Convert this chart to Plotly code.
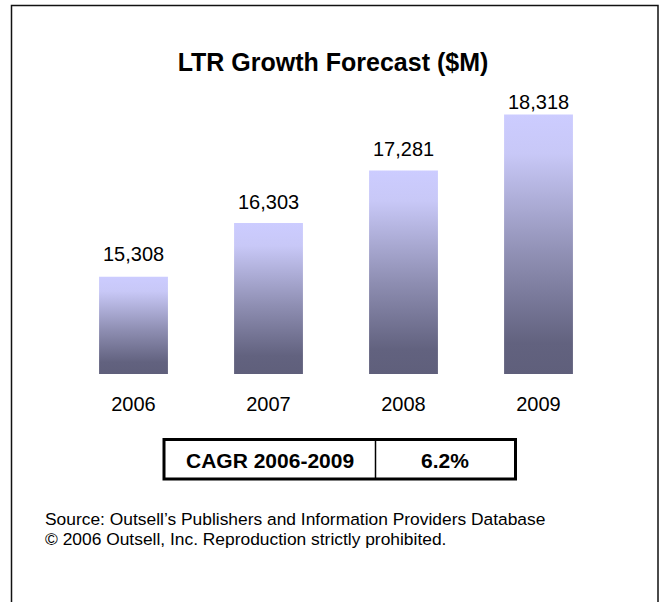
import plotly.graph_objects as go

# Forecast values ($M)
years = ["2006", "2007", "2008", "2009"]
revenue = [15308, 16303, 17281, 18318]

cagr_label = "CAGR 2006-2009"
cagr_value = "6.2%"
title_text = "LTR Growth Forecast ($M)"
source_lines = [
    "Source: Outsell\u2019s Publishers and Information Providers Database",
    "\u00a9 2006 Outsell, Inc. Reproduction strictly prohibited.",
]

W, H = 666, 602
L, R, T, B = 66, 60, 24, 228
Y_MIN, Y_MAX = 13500, 20000
BAR_W = 0.51
FONT = "Liberation Sans, Arial, sans-serif"
# gap (px) between each bar top and its value label
LABEL_GAP = [10, 8, 8, 0]

plot_w = W - L - R
plot_h = H - T - B


def px_x(px):
    return (px - L) / plot_w


def px_y(py):
    return (H - B - py) / plot_h


# vertical gradient per bar: dark at the base, pale lavender at the top
bar_scale = [
    [0.0, "#5f5f7b"],
    [0.12, "#62627f"],
    [0.45, "#8e8eb2"],
    [0.85, "#c8c8f7"],
    [1.0, "#ccccff"],
]

fig = go.Figure()

for i, v in enumerate(revenue):
    fig.add_trace(go.Scatter(
        x=[i - BAR_W / 2, i + BAR_W / 2, i + BAR_W / 2, i - BAR_W / 2, i - BAR_W / 2],
        y=[Y_MIN, Y_MIN, v, v, Y_MIN],
        mode="lines",
        fill="toself",
        fillgradient=dict(type="vertical", colorscale=bar_scale, start=Y_MIN, stop=v),
        line=dict(width=0, color="rgba(0,0,0,0)"),
        hoverinfo="skip",
        showlegend=False,
    ))

shapes = [
    # outer frame (open at the bottom)
    dict(type="rect", xref="paper", yref="paper",
         x0=px_x(11.5), x1=px_x(658), y0=px_y(640), y1=px_y(5.5),
         line=dict(color="#111111", width=1.5), fillcolor="rgba(0,0,0,0)", layer="below"),
    # CAGR box
    dict(type="rect", xref="paper", yref="paper",
         x0=px_x(164), x1=px_x(515.5), y0=px_y(479), y1=px_y(439.5),
         line=dict(color="#000000", width=3), fillcolor="rgba(0,0,0,0)"),
    dict(type="line", xref="paper", yref="paper",
         x0=px_x(375.5), x1=px_x(375.5), y0=px_y(479), y1=px_y(439.5),
         line=dict(color="#000000", width=1.5)),
]

annotations = []
# value labels above bars
for i, v in enumerate(revenue):
    annotations.append(dict(
        text=f"{v:,}", x=i, y=v, xref="x", yref="y",
        xanchor="center", yanchor="bottom", yshift=LABEL_GAP[i],
        showarrow=False, font=dict(family=FONT, size=20, color="#000000"),
    ))

annotations += [
    dict(text=f"<b>{cagr_label}</b>", xref="paper", yref="paper",
         x=px_x(269.5), y=px_y(460), xanchor="center", yanchor="middle",
         showarrow=False, font=dict(family=FONT, size=21, color="#000000")),
    dict(text=f"<b>{cagr_value}</b>", xref="paper", yref="paper",
         x=px_x(445), y=px_y(460), xanchor="center", yanchor="middle",
         showarrow=False, font=dict(family=FONT, size=21, color="#000000")),
]
for k, line in enumerate(source_lines):
    annotations.append(dict(
        text=line, xref="paper", yref="paper",
        x=px_x(43), y=px_y(519 + 19.5 * k), xanchor="left", yanchor="middle",
        showarrow=False, font=dict(family=FONT, size=17.4, color="#000000"),
    ))

fig.update_layout(
    width=W, height=H,
    margin=dict(l=L, r=R, t=T, b=B, pad=0),
    paper_bgcolor="#ffffff",
    plot_bgcolor="#ffffff",
    title=dict(text=f"<b>{title_text}</b>", xref="container", yref="container",
               x=0.5, y=1 - 62 / H, xanchor="center", yanchor="middle",
               font=dict(family=FONT, size=25, color="#000000")),
    xaxis=dict(range=[-0.5, len(years) - 0.5], tickvals=list(range(len(years))),
               ticktext=years, showgrid=False, zeroline=False, showline=False,
               ticks="", ticklabelstandoff=16,
               tickfont=dict(family=FONT, size=20, color="#000000"), fixedrange=True),
    yaxis=dict(range=[Y_MIN, Y_MAX], visible=False, fixedrange=True),
    shapes=shapes,
    annotations=annotations,
    showlegend=False,
)

fig.write_html("out.html")
